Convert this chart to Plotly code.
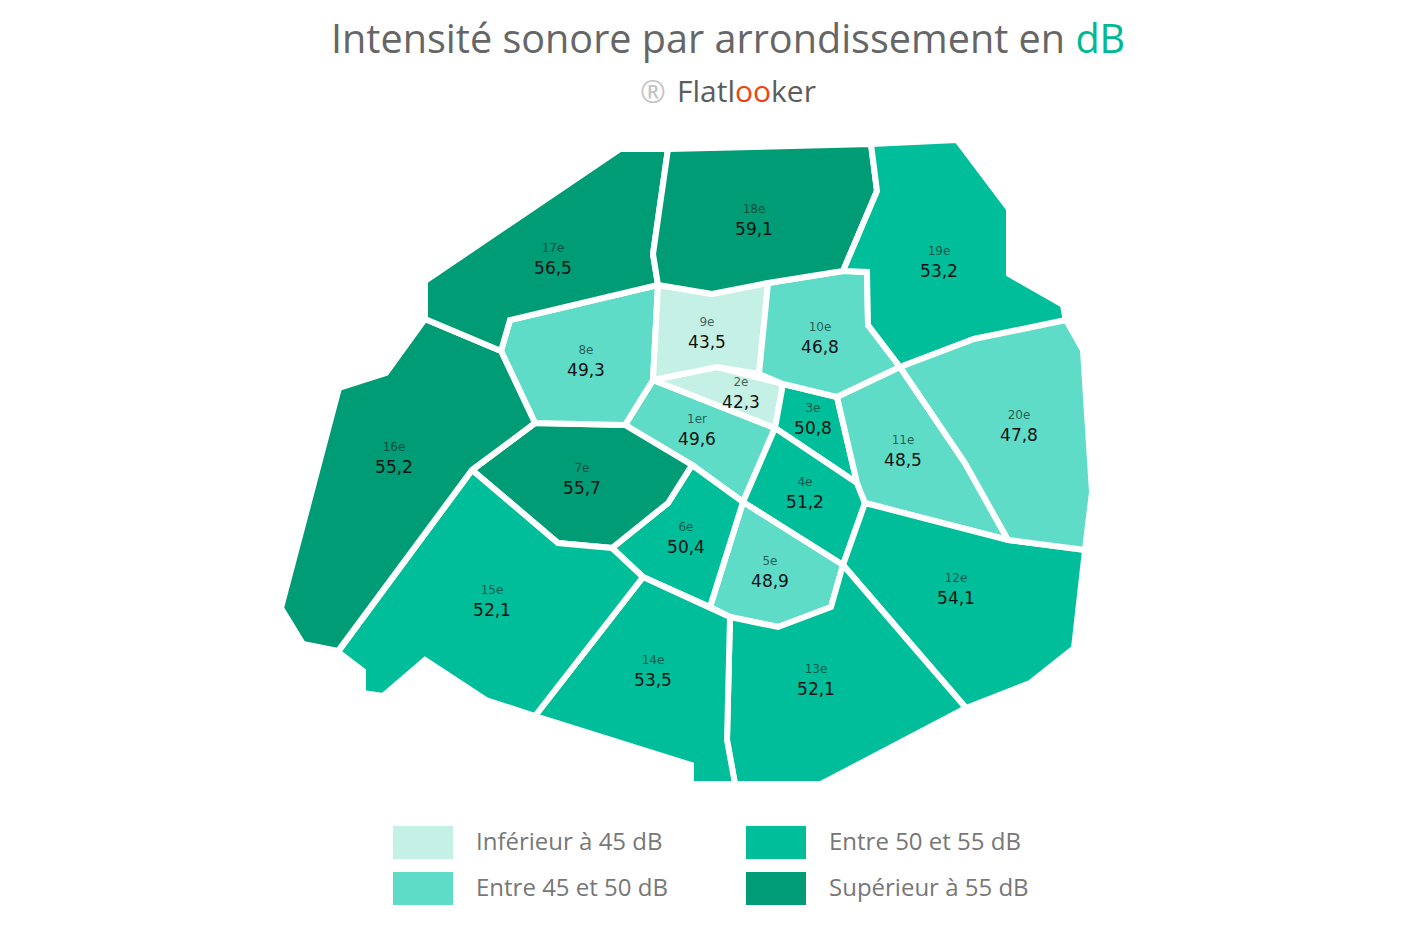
import plotly.graph_objects as go

# arrondissement names and measured noise level (dB)
names = ["1er", "2e", "3e", "4e", "5e", "6e", "7e", "8e", "9e", "10e",
         "11e", "12e", "13e", "14e", "15e", "16e", "17e", "18e", "19e", "20e"]
values = [49.6, 42.3, 50.8, 51.2, 48.9, 50.4, 55.7, 49.3, 43.5, 46.8,
          48.5, 54.1, 52.1, 53.5, 52.1, 55.2, 56.5, 59.1, 53.2, 47.8]

# label anchor of each arrondissement
label_x = [697, 741, 813, 805, 770, 686, 582, 586, 707, 820,
           903, 956, 816, 653, 492, 394, 553, 754, 939, 1019]
label_y = [420, 383, 409, 483, 562, 528, 469, 351, 323, 328,
           441, 579, 670, 661, 591, 448, 249, 210, 252, 416]

# outlines in picture pixels
outlines = {
    "1er": [(653, 380), (775, 428), (743, 502), (692, 465), (625, 425)],
    "2e": [(653, 380), (717, 367), (783, 384), (775, 428)],
    "3e": [(783, 384), (837, 397), (857, 483), (775, 428)],
    "4e": [(775, 428), (857, 483), (865, 503), (843, 565), (743, 502)],
    "5e": [(743, 502), (843, 565), (831, 607), (778, 627), (730, 617), (710, 607)],
    "6e": [(692, 465), (743, 502), (710, 607), (643, 577), (612, 548), (668, 503)],
    "7e": [(535, 423), (625, 425), (692, 465), (668, 503), (612, 548), (558, 543), (472, 470)],
    "8e": [(510, 320), (658, 285), (653, 380), (625, 425), (535, 423), (501, 351)],
    "9e": [(658, 285), (712, 294), (768, 283), (759, 374), (717, 367), (653, 380)],
    "10e": [(768, 283), (843, 271), (867, 272), (868, 325), (900, 367), (837, 397), (783, 384), (759, 374)],
    "11e": [(837, 397), (900, 367), (965, 463), (1008, 540), (865, 503), (857, 483)],
    "12e": [(865, 503), (1008, 540), (1085, 550), (1074, 648), (1030, 683), (966, 708), (843, 565)],
    "13e": [(730, 617), (778, 627), (831, 607), (843, 565), (966, 708), (821, 784), (735, 784), (727, 740)],
    "14e": [(535, 716), (643, 577), (730, 617), (727, 740), (735, 784), (691, 784), (691, 765)],
    "15e": [(472, 470), (558, 543), (612, 548), (643, 577), (535, 716), (486, 700), (425, 660), (383, 696),
            (363, 693), (363, 671), (338, 652)],
    "16e": [(425, 319), (501, 351), (535, 423), (472, 470), (338, 651), (303, 644), (281, 608), (339, 388), (386, 373)],
    "17e": [(620, 149), (668, 149), (653, 254), (658, 285), (510, 320), (501, 351), (425, 319), (425, 281)],
    "18e": [(668, 149), (871, 144), (877, 191), (843, 271), (768, 283), (712, 294), (658, 285), (653, 254)],
    "19e": [(871, 144), (957, 140), (1009, 209), (1009, 274), (1063, 305), (1066, 322), (974, 339), (900, 367),
            (868, 325), (867, 272), (843, 271), (877, 191)],
    "20e": [(900, 367), (974, 339), (1066, 320), (1083, 350), (1092, 492), (1085, 550), (1008, 540), (965, 463)],
}

legend_labels = ["Inférieur à 45 dB", "Entre 45 et 50 dB", "Entre 50 et 55 dB", "Supérieur à 55 dB"]
legend_colors = ["#c5f0e5", "#5edcc7", "#00be9a", "#009c76"]
thresholds = [45, 50, 55]


def bin_color(v):
    for limit, col in zip(thresholds, legend_colors):
        if v < limit:
            return col
    return legend_colors[-1]


fig = go.Figure()

for name, val in zip(names, values):
    xs = [p[0] for p in outlines[name]]
    ys = [p[1] for p in outlines[name]]
    fig.add_trace(go.Scatter(x=xs + xs[:1], y=ys + ys[:1], mode="lines", fill="toself",
                             fillcolor=bin_color(val), line=dict(color="white", width=6),
                             name=name, hoverinfo="name+text", text=f"{val:.1f} dB".replace(".", ",")))

# small name + bigger value under it
fig.add_trace(go.Scatter(x=label_x, y=label_y, mode="text", text=names, hoverinfo="skip",
                         textfont=dict(family="DejaVu Sans", size=12, color="rgba(20,50,45,0.75)")))
fig.add_trace(go.Scatter(x=label_x, y=[y + 21 for y in label_y], mode="text", hoverinfo="skip",
                         text=[f"{v:.1f}".replace(".", ",") for v in values],
                         textfont=dict(family="DejaVu Sans", size=17, color="#111111")))

# legend swatches and their text
legend_x = [393, 393, 746, 746]
legend_y = [826, 872, 826, 872]
for lab, col, lx, ly in zip(legend_labels, legend_colors, legend_x, legend_y):
    fig.add_shape(type="rect", x0=lx, x1=lx + 60, y0=ly, y1=ly + 33, fillcolor=col, line_width=0)
    fig.add_annotation(x=lx + 81, y=ly + 14, text=lab, showarrow=False, xanchor="left",
                       font=dict(family="Open Sans", size=24, color="#777777"))

fig.add_annotation(x=728, y=37.5, showarrow=False,
                   text='Intensité sonore par arrondissement en <span style="color:#00b894">dB</span>',
                   font=dict(family="Open Sans", size=39.6, color="#666666"))
fig.add_annotation(x=653, y=91, showarrow=False, text="®",
                   font=dict(family="Open Sans", size=31, color="#c4c4c4"))
fig.add_annotation(x=675, y=90, showarrow=False, xanchor="left",
                   text='Flatl<span style="color:#ee4411">oo</span>ker',
                   font=dict(family="Open Sans", size=30, color="#5c5c5c"))

fig.update_layout(width=1416, height=940, margin=dict(l=0, r=0, t=0, b=0), showlegend=False,
                  plot_bgcolor="white", paper_bgcolor="white",
                  xaxis=dict(range=[0, 1416], visible=False, fixedrange=True),
                  yaxis=dict(range=[940, 0], visible=False, fixedrange=True))

fig.write_html("out.html", config={"displayModeBar": False},
               post_script="document.body.style.margin='0';")
